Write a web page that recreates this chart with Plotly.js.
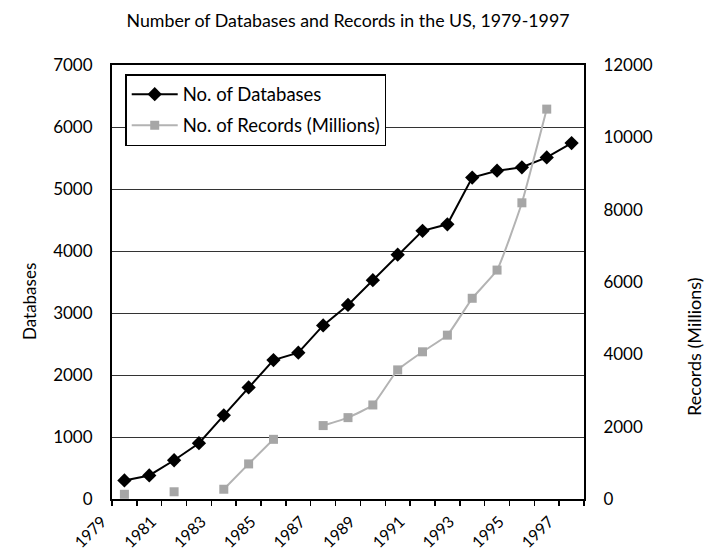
<!DOCTYPE html>
<html>
<head>
<meta charset="utf-8">
<script src="https://cdn.plot.ly/plotly-3.0.1.min.js"></script>
<style>html,body{margin:0;padding:0;background:#fff;}#chart{width:707px;height:554px;}</style>
</head>
<body>
<div id="chart"></div>
<script>
// Data
const years = [1979,1980,1981,1982,1983,1984,1985,1986,1987,1988,1989,1990,1991,1992,1993,1994,1995,1996,1997];
const databases = [300,380,625,900,1350,1800,2240,2360,2800,3130,3530,3940,4325,4430,5185,5295,5350,5510,5740];
const recordsMillions = [130,null,200,null,270,970,1650,null,2030,2250,2600,3570,4070,4530,5550,6330,8190,10780,null];
const tickLabels = ['1979','1981','1983','1985','1987','1989','1991','1993','1995','1997'];

const FONT = 'Lato, "Open Sans", sans-serif';

const traces = [
  {
    x: years, y: databases, name: 'No. of Databases', type: 'scatter', mode: 'lines+markers',
    line: {color: '#000000', width: 2},
    marker: {symbol: 'diamond', size: 11, color: '#000000'},
    legendgroup: 'a', yaxis: 'y'
  },
  {
    x: years, y: recordsMillions, name: 'No. of Records (Millions)', type: 'scatter', mode: 'lines+markers',
    line: {color: '#b3b3b3', width: 2, shape: 'spline', smoothing: 0.4},
    marker: {symbol: 'square', size: 9, color: '#a6a6a6'},
    connectgaps: false,
    legendgroup: 'b', yaxis: 'y2'
  }
];

const layout = {
  width: 707, height: 554,
  margin: {l: 112, r: 123, t: 65, b: 55},
  paper_bgcolor: '#ffffff', plot_bgcolor: '#ffffff',
  font: {family: FONT, size: 17, color: '#000000'},
  title: {
    text: 'Number of Databases and Records in the US, 1979-1997',
    font: {family: FONT, size: 17.8, color: '#000000'},
    x: 0.5, xref: 'paper', y: 1 - 21/554, yref: 'container', yanchor: 'middle'
  },
  showlegend: true,
  legend: {
    x: 0.028, y: 0.979, xanchor: 'left', yanchor: 'top',
    bgcolor: '#ffffff', bordercolor: '#000000', borderwidth: 1.5,
    font: {family: FONT, size: 18.5, color: '#000000'},
    traceorder: 'grouped', tracegroupgap: 4, itemwidth: 46
  },
  xaxis: {
    type: 'linear',
    range: [years[0] - 0.5, years[years.length - 1] + 0.5],
    tickmode: 'array',
    tickvals: tickLabels.map(t => Number(t) - 0.5),
    ticktext: tickLabels,
    tickangle: -45,
    ticklabelshift: -10,
    ticklabelstandoff: 0,
    ticks: 'outside', ticklen: 5, tickwidth: 1.5, tickcolor: '#000',
    minor: {tickmode: 'linear', tick0: years[0] - 0.5, dtick: 1, ticks: 'outside', ticklen: 5, tickwidth: 1.5, tickcolor: '#000', showgrid: false},
    showgrid: false, zeroline: false,
    showline: true, linecolor: '#000', linewidth: 2, mirror: true,
    tickfont: {family: FONT, size: 16, color: '#000'}
  },
  yaxis: {
    range: [0, 7000], dtick: 1000, tick0: 0,
    showgrid: true, gridcolor: '#333333', gridwidth: 1,
    zeroline: false, showline: true, linecolor: '#000', linewidth: 2,
    ticks: '', ticklabelstandoff: 14,
    tickfont: {family: FONT, size: 17, color: '#000'}
  },
  yaxis2: {
    overlaying: 'y', side: 'right',
    range: [0, 12000], dtick: 2000, tick0: 0, tickformat: 'd',
    showgrid: false, zeroline: false, showline: true, linecolor: '#000', linewidth: 2,
    ticks: '', ticklabelstandoff: 14,
    tickfont: {family: FONT, size: 17, color: '#000'}
  },
  annotations: [
    {text: 'Databases', textangle: -90, xref: 'paper', yref: 'paper',
     x: (29 - 112) / 472, y: (499 - 302) / 434, xanchor: 'center', yanchor: 'middle',
     showarrow: false, font: {family: FONT, size: 17, color: '#000'}},
    {text: 'Records (Millions)', textangle: -90, xref: 'paper', yref: 'paper',
     x: (694 - 112) / 472, y: (499 - 347) / 434, xanchor: 'center', yanchor: 'middle',
     showarrow: false, font: {family: FONT, size: 18, color: '#000'}}
  ]
};

Plotly.newPlot('chart', traces, layout, {displayModeBar: false, staticPlot: true});
</script>
</body>
</html>
